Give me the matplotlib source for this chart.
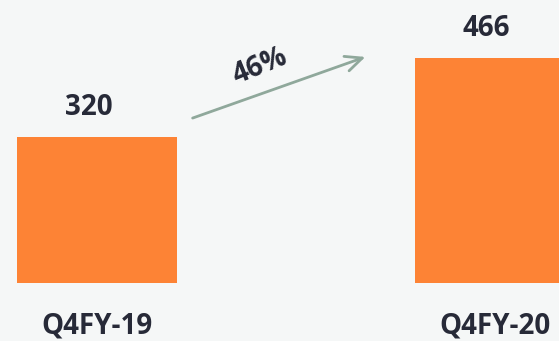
import matplotlib.pyplot as plt
from matplotlib.transforms import blended_transform_factory

quarters = ["Q4FY-19", "Q4FY-20"]
values = [320, 466]
growth_label = "46%"

bg = "#f5f7f7"
orange = "#fd8335"
dark = "#272a38"
arrow_col = "#8fa89b"

plt.rcParams['font.family'] = ['Open Sans', 'DejaVu Sans']

fig = plt.figure(figsize=(5.59, 3.41), dpi=100, facecolor=bg)
ax = fig.add_axes([0, 58/341, 1, 283/341])
ax.set_facecolor(bg)

x = list(range(len(values)))
bars = ax.bar(x, values, width=0.402, color=orange)
ax.set_xlim(-0.2437, 1.1608)
ax.set_ylim(50, 573)
ax.axis('off')

# value labels above bars
for b, v in zip(bars, values):
    ax.annotate(str(v), (b.get_x() + b.get_width()/2, v), xytext=(-6, 15.5),
                textcoords='offset points', ha='center', va='baseline',
                fontsize=20, fontweight='bold', color=dark, annotation_clip=False)

# category labels under bars
trans = blended_transform_factory(ax.transData, fig.transFigure)
for xi, q in zip(x, quarters):
    ax.text(xi, 15/341, q, transform=trans, ha='center', va='center',
            fontsize=20, fontweight='bold', color=dark, clip_on=False)

# growth arrow
ax.annotate('', xy=(368/559, 1-56/341), xytext=(190/559, 1-119/341),
            xycoords='figure fraction', textcoords='figure fraction',
            arrowprops=dict(arrowstyle='->,head_length=1.2,head_width=0.55',
                            color=arrow_col, lw=2))
fig.text(260/559, 1-66/341, growth_label, ha='center', va='center', rotation=22,
         fontsize=20, fontweight='bold', color=dark)

fig.savefig("out.png", dpi=100, facecolor=bg)
